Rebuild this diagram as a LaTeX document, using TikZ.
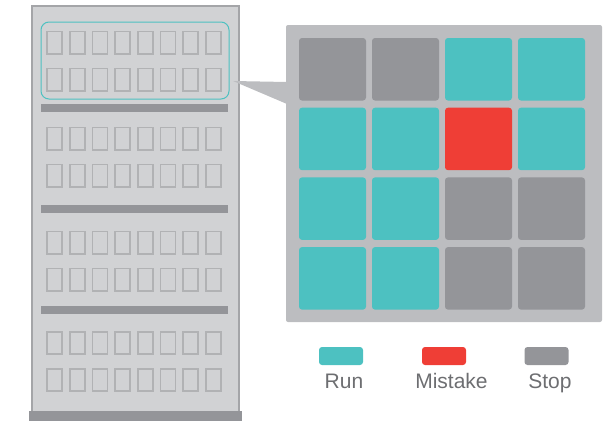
\documentclass[tikz,border=0pt]{standalone}
\usepackage{fontspec}
\setmainfont{Liberation Sans}
\usetikzlibrary{positioning}
\definecolor{runcol}{HTML}{4DC1C1}
\definecolor{mistakecol}{HTML}{EF3E36}
\definecolor{stopcol}{HTML}{949599}
\definecolor{rackcol}{HTML}{D1D2D4}
\definecolor{panelcol}{HTML}{BCBDC0}
\definecolor{slotcol}{HTML}{B1B2B4}
\definecolor{textcol}{HTML}{6D6E71}

\begin{document}
\begin{tikzpicture}[x=1pt,y=-1pt,
  slot/.style={draw=slotcol,line width=1.6pt},
  cell/.style={rounded corners=3pt},
  swatch/.style={rounded corners=3pt,minimum width=44pt,minimum height=18pt,inner sep=0pt},
  lbl/.style={text=textcol,inner sep=0pt,font=\fontsize{21}{21}\selectfont}]
\useasboundingbox (0,0) rectangle (611,421);

% rack with its slots
\fill[rackcol,draw=stopcol!85,line width=1.8pt] (32,6) rectangle (239,412);
\fill[stopcol] (29,411) rectangle (242,421);
\foreach \y in {108,209,310}
  \fill[stopcol] (41,{\y-4}) rectangle (228,{\y+4});
\foreach \g in {42.5,138.5,242.5,343}
  \foreach \r in {0,37}
    \foreach \c in {0,...,7}
      \draw[slot] ({47+22.7*\c},{\g+\r-11.2}) rectangle ++(15,22.4);
\draw[runcol,line width=1pt,rounded corners=8pt] (41,22) rectangle (229,99);

% zoomed panel
\fill[panelcol] (233,81) -- (287,82) -- (287,104) -- cycle;
\fill[panelcol,rounded corners=2pt] (286,25) rectangle (602,322);
\foreach \row [count=\j from 0] in {{stopcol,stopcol,runcol,runcol},
    {runcol,runcol,mistakecol,runcol},{runcol,runcol,stopcol,stopcol},
    {runcol,runcol,stopcol,stopcol}}
  \foreach \k [count=\i from 0] in \row
    \fill[\k,cell] ({299+73*\i},{38+69.7*\j}) rectangle ++(67,62.5);

% legend
\node[swatch,fill=runcol] (run) at (341,356) {};
\node[swatch,fill=mistakecol] (mistake) at (444,356) {};
\node[swatch,fill=stopcol] (stop) at (546.5,356) {};
\node[lbl,anchor=base] (runlbl) at (344,388) {Run};
\node[lbl,anchor=base] (mistakelbl) at (451.5,388) {Mistake};
\node[lbl,anchor=base] (stoplbl) at (550,388) {Stop};
\end{tikzpicture}
\end{document}
